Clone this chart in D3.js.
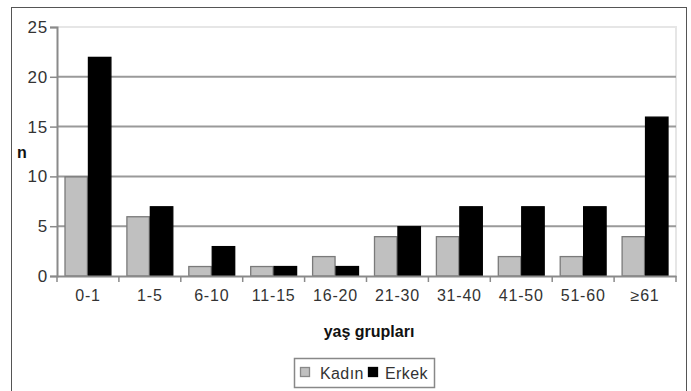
<!DOCTYPE html>
<html><head><meta charset="utf-8">
<script src="https://cdn.jsdelivr.net/npm/d3@7"></script>
<style>body{margin:0;background:#fff}svg{display:block}text{font-family:"Liberation Sans",Arial,sans-serif}</style>
</head><body><svg id="c" width="691" height="391"></svg>
<script>
const categories = ["0-1","1-5","6-10","11-15","16-20","21-30","31-40","41-50","51-60","≥61"];
const kadin = [10,6,1,1,2,4,4,2,2,4];
const erkek = [22,7,3,1,1,5,7,7,7,16];
const yTicks = [0,5,10,15,20,25];
const seriesNames = ["Kadın","Erkek"];
const colors = ["#c0c0c0","#000000"];

const svg = d3.select("#c");
const L=57,R=676,T=27,B=276;
const FF = "Liberation Sans, Arial, sans-serif";
// outer frame
svg.append("rect").attr("x",11.5).attr("y",7.5).attr("width",675).attr("height",400).attr("fill","none").attr("stroke","#555").attr("stroke-width",1);

const x = d3.scaleBand().domain(categories).range([L,R]).paddingInner(0).paddingOuter(0);
const y = d3.scaleLinear().domain([0,25]).range([B,T]);

// plot frame top/right light
svg.append("path").attr("d",`M${L},${T}H${R}V${B}`).attr("fill","none").attr("stroke","#e6e6e6").attr("stroke-width",2);
// gridlines
svg.append("g").selectAll("line").data(yTicks.filter(d=>d>0&&d<25)).join("line")
  .attr("x1",L).attr("x2",R).attr("y1",d=>y(d)).attr("y2",d=>y(d))
  .attr("stroke","#9a9a9a").attr("stroke-width",2);

// bars
const inner = d3.scaleBand().domain([0,1]).range([0,x.bandwidth()]).paddingOuter(0.32).paddingInner(0);
const data = categories.map((c,i)=>({c, v:[kadin[i],erkek[i]]}));
const g = svg.append("g");
data.forEach(d=>{
  d.v.forEach((v,k)=>{
    g.append("rect").attr("x",x(d.c)+inner(k)+0.5).attr("y",y(v)+0.5)
     .attr("width",inner.bandwidth()-1).attr("height",y(0)-y(v)-0.5)
     .attr("fill",colors[k]).attr("stroke",k==0?"#7a7a7a":"#000").attr("stroke-width",1.3);
  });
});

// y axis
const ya = svg.append("g").attr("transform",`translate(${L},0)`).call(d3.axisLeft(y).tickValues(yTicks).tickSize(7).tickPadding(2));
ya.select(".domain").attr("stroke","#8a8a8a").attr("stroke-width",2);
ya.selectAll(".tick line").attr("stroke","#8a8a8a").attr("stroke-width",1.5);
ya.selectAll("text").attr("font-size",17).attr("letter-spacing","0.8").attr("fill","#333").attr("font-family",FF);

// x axis
const xa = svg.append("g").attr("transform",`translate(0,${B})`).call(d3.axisBottom(x).tickSize(0).tickPadding(14));
xa.select(".domain").attr("stroke","#8a8a8a").attr("stroke-width",2);
xa.selectAll("text").attr("font-size",16).attr("letter-spacing","0.8").attr("fill","#333").attr("font-family",FF);
// x tick marks at band boundaries
svg.append("g").selectAll("line").data(categories.concat(["__end"])).join("line")
  .attr("x1",(d,i)=>L+i*x.bandwidth()).attr("x2",(d,i)=>L+i*x.bandwidth())
  .attr("y1",B).attr("y2",B+6).attr("stroke","#8a8a8a").attr("stroke-width",1.5);

// axis titles
svg.append("text").attr("x",22).attr("y",158).attr("text-anchor","middle").attr("font-size",16).attr("font-weight","bold").attr("fill","#111").text("n");
svg.append("text").attr("x",369).attr("y",337).attr("text-anchor","middle").attr("font-size",16).attr("font-weight","bold").attr("fill","#111").text("yaş grupları");

// legend
const lg = svg.append("g");
lg.append("rect").attr("x",294.5).attr("y",358.5).attr("width",140).attr("height",29).attr("fill","#fff").attr("stroke","#888").attr("stroke-width",1.5);
const lx=[300,368], tx=[320,385];
seriesNames.forEach((n,k)=>{
  lg.append("rect").attr("x",lx[k]+0.5).attr("y",367.5).attr("width",9).attr("height",9).attr("fill",colors[k]).attr("stroke",k==0?"#888":"#000").attr("stroke-width",1.3);
  lg.append("text").attr("x",tx[k]).attr("y",379).attr("font-size",16).attr("letter-spacing","0.4").attr("fill","#333").text(n);
});
</script></body></html>
